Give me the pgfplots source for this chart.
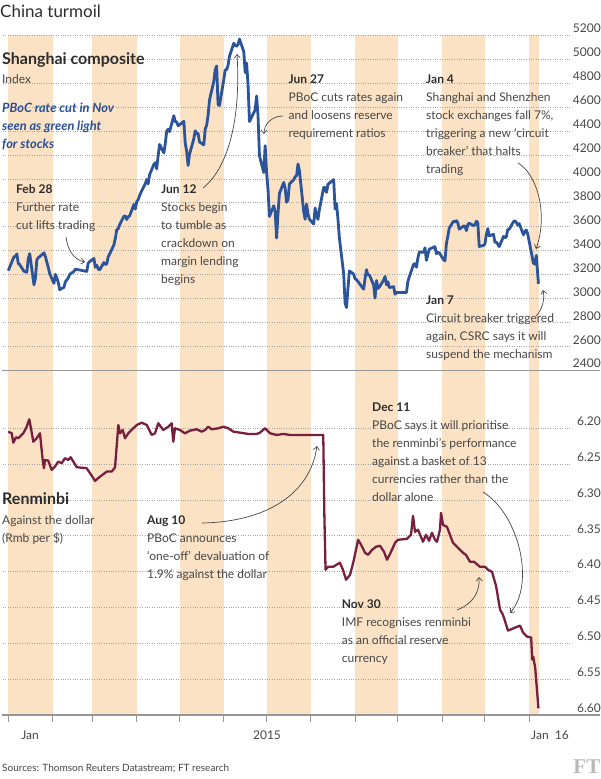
\documentclass[border=0pt]{standalone}
\usepackage{fontspec}
\setmainfont{Lato}
\usepackage{pgfplots}
\pgfplotsset{compat=1.18}
\usetikzlibrary{arrows.meta}
\definecolor{band}{RGB}{252,226,196}
\definecolor{shblue}{RGB}{43,84,155}
\definecolor{rmbred}{RGB}{120,30,62}
\definecolor{txt}{RGB}{70,70,70}
\definecolor{hd}{RGB}{45,45,45}
\definecolor{gridc}{RGB}{165,165,165}
\definecolor{axc}{RGB}{150,150,150}
\definecolor{ftgray}{RGB}{185,185,185}
\definecolor{notecol}{RGB}{40,80,150}

\pgfplotsset{
  ftbase/.style={
    scale only axis, width=567.7pt,
    xmin=-3.71, xmax=394.1,
    axis line style={draw=none},
    ytick style={draw=none},
    yticklabel pos=right,
    yticklabel style={anchor=base east, inner sep=0pt, xshift=30.3pt, yshift=2.7pt,
      font=\fontsize{12}{12}\selectfont, text=txt},
    ymajorgrids, major grid style={gridc, dotted, line width=0.7pt},
    /pgf/number format/assume math mode=true,
    set layers,
  }
}
\tikzset{
  note/.style={anchor=base west, inner sep=0pt, font=\fontsize{12}{18}\selectfont, text=txt},
  arr/.style={draw=txt, line width=0.7pt, -{Straight Barb[length=3.5pt,width=6pt]}},
}
\newcommand{\note}[3]{\node[note] at (#1,#2) {\begin{tabular}[t]{@{}l@{}}#3\end{tabular}};}
\newcommand{\hd}[1]{\textcolor{hd}{\textbf{#1}}}

\begin{document}
\begin{tikzpicture}
\path (0,0) rectangle (601pt,779pt);

% ---------------- Shanghai composite ----------------
\begin{axis}[ftbase, at={(3pt,408.3pt)}, anchor=south west, height=335.7pt,
  ymin=2400, ymax=5200, ytick={2400,2600,2800,3000,3200,3400,3600,3800,4000,4200,4400,4600,4800,5000,5200},
  xtick=\empty,
  /pgf/number format/set thousands separator={}]
\begin{pgfonlayer}{axis background}
\fill[band] (axis cs:0,2400) rectangle (axis cs:31,5200);
\fill[band] (axis cs:59,2400) rectangle (axis cs:90,5200);
\fill[band] (axis cs:120,2400) rectangle (axis cs:151,5200);
\fill[band] (axis cs:181,2400) rectangle (axis cs:212,5200);
\fill[band] (axis cs:243,2400) rectangle (axis cs:273,5200);
\fill[band] (axis cs:304,2400) rectangle (axis cs:334,5200);
\fill[band] (axis cs:365,2400) rectangle (axis cs:372,5200);
\end{pgfonlayer}
\addplot[shblue, line width=2.8pt, line join=round, mark=none] coordinates {
(0,3235) (4,3351) (5,3352) (6,3374) (7,3294) (8,3285) (11,3229) (12,3224) (13,3222) (14,3336) (15,3376) (18,3116) (19,3173) (20,3323) (21,3343) (22,3351) (25,3383) (26,3352) (27,3305) (28,3262) (29,3210) (32,3128) (33,3204) (34,3174) (35,3136) (36,3076) (39,3095) (40,3142) (41,3157) (42,3173) (43,3203) (46,3228) (47,3247) (55,3228) (56,3298) (57,3310) (60,3336) (61,3263) (62,3280) (63,3248) (64,3241) (67,3302) (68,3286) (69,3290) (70,3349) (71,3373) (74,3449) (75,3503) (76,3577) (77,3582) (78,3617) (81,3688) (82,3691) (83,3661) (84,3683) (85,3691) (88,3786) (89,3748) (90,3810) (91,3825) (92,3863) (96,3961) (97,3995) (98,3957) (99,4034) (102,4121) (103,4135) (104,4084) (105,4194) (106,4287) (109,4217) (110,4293) (111,4398) (112,4414) (113,4394) (116,4527) (117,4476) (118,4476) (119,4442) (123,4480) (124,4298) (125,4229) (126,4112) (127,4205) (130,4334) (131,4401) (132,4375) (133,4378) (134,4308) (137,4283) (138,4418) (139,4446) (140,4530) (141,4658) (144,4813) (145,4911) (146,4942) (147,4620) (148,4612) (151,4828) (152,4910) (153,4910) (154,4947) (155,5023) (158,5131) (159,5113) (160,5106) (161,5121) (162,5166) (165,5062) (166,4887) (167,4967) (168,4785) (169,4478) (173,4576) (174,4691) (175,4527) (176,4192) (179,4053) (180,4277) (181,4053) (182,3912) (183,3687) (186,3776) (187,3727) (188,3507) (189,3710) (190,3878) (193,3970) (194,3924) (195,3805) (196,3823) (197,3958) (200,3992) (201,4017) (202,4027) (203,4124) (204,4071) (207,3726) (208,3663) (209,3790) (210,3706) (211,3664) (214,3623) (215,3757) (216,3695) (217,3662) (218,3744) (221,3928) (222,3928) (223,3887) (224,3955) (225,3965) (228,3994) (229,3749) (230,3794) (231,3665) (232,3508) (235,3210) (236,2965) (237,2927) (238,3084) (239,3232) (242,3206) (243,3166) (244,3160) (249,3080) (250,3170) (251,3243) (252,3197) (253,3200) (256,3114) (257,3005) (258,3152) (259,3086) (260,3097) (263,3156) (264,3186) (265,3116) (266,3142) (267,3093) (270,3101) (271,3038) (272,3053) (279,3053) (280,3143) (281,3183) (284,3287) (285,3293) (286,3263) (287,3338) (288,3391) (291,3387) (292,3425) (293,3320) (294,3369) (295,3413) (298,3430) (299,3434) (300,3375) (301,3387) (302,3383) (305,3326) (306,3317) (307,3460) (308,3522) (309,3590) (312,3647) (313,3641) (314,3651) (315,3633) (316,3580) (319,3607) (320,3605) (321,3568) (322,3618) (323,3630) (326,3610) (327,3616) (328,3647) (329,3635) (330,3436) (333,3445) (334,3456) (335,3537) (336,3585) (337,3525) (340,3537) (341,3471) (342,3472) (343,3455) (344,3435) (347,3520) (348,3510) (349,3516) (350,3580) (351,3579) (354,3642) (355,3651) (356,3636) (357,3612) (358,3627) (361,3533) (362,3563) (363,3573) (364,3539) (368,3296) (369,3288) (370,3361) (371.5,3125)
};
\end{axis}

% ---------------- Renminbi ----------------
\begin{axis}[ftbase, at={(3pt,64pt)}, anchor=south west, height=344.7pt,
  y dir=reverse, ymin=6.1191, ymax=6.60,
  ytick={6.20,6.25,6.30,6.35,6.40,6.45,6.50,6.55,6.60},
  yticklabel style={/pgf/number format/fixed, /pgf/number format/fixed zerofill, /pgf/number format/precision=2},
  xtick={0,31,59,90,120,151,181,212,243,273,304,334,365}, xticklabels={},
  xtick pos=left, xtick align=outside, major tick length=6.7pt,
  xtick style={draw=axc, line width=0.9pt}]
\begin{pgfonlayer}{axis background}
\fill[band] (axis cs:0,6.1191) rectangle (axis cs:31,6.60);
\fill[band] (axis cs:59,6.1191) rectangle (axis cs:90,6.60);
\fill[band] (axis cs:120,6.1191) rectangle (axis cs:151,6.60);
\fill[band] (axis cs:181,6.1191) rectangle (axis cs:212,6.60);
\fill[band] (axis cs:243,6.1191) rectangle (axis cs:273,6.60);
\fill[band] (axis cs:304,6.1191) rectangle (axis cs:334,6.60);
\fill[band] (axis cs:365,6.1191) rectangle (axis cs:372,6.60);
\end{pgfonlayer}
\addplot[rmbred, line width=2.3pt, line join=round, mark=none] coordinates {
(0,6.2047) (2.4,6.2070) (3.5,6.2201) (5.4,6.2125) (7.0,6.2139) (10.5,6.2070) (12.9,6.1978) (14.7,6.1875) (15.7,6.1978) (17.5,6.2187) (19.9,6.2139) (22.2,6.2070) (24.1,6.2442) (25.0,6.2557) (25.7,6.2442) (28.0,6.2451) (30.4,6.2581) (32.7,6.2535) (35.0,6.2465) (37.4,6.2487) (39.7,6.2418) (42.0,6.2442) (43.7,6.2404) (45.6,6.2465) (47.9,6.2543) (54.9,6.2557) (57.3,6.2627) (60.8,6.2734) (64.3,6.2674) (69.0,6.2604) (72.5,6.2604) (74.8,6.2543) (77.1,6.1954) (78.3,6.2070) (80.2,6.2024) (81.8,6.2139) (84.1,6.2070) (87.6,6.2000) (90.0,6.1954) (93.5,6.1922) (97.0,6.1954) (100.5,6.2093) (102.8,6.2070) (105.1,6.1930) (108.6,6.2024) (112.1,6.1978) (114.5,6.1930) (115.6,6.2187) (116.8,6.2000) (120.3,6.2024) (123.8,6.2070) (127.3,6.2033) (132.0,6.2014) (135.5,6.2047) (137.8,6.2024) (140.2,6.1978) (142.5,6.2014) (147.2,6.2000) (150.7,6.1978) (154.2,6.2000) (157.7,6.2047) (162.4,6.2061) (168.2,6.2079) (174.1,6.2079) (176.4,6.2061) (179.9,6.2000) (183.4,6.2070) (188.1,6.2093) (192.7,6.2079) (197.4,6.2093) (204.4,6.2093) (211.4,6.2093) (218.4,6.2093) (220.7,6.2093) (221.5,6.3231) (222.3,6.3974) (224.1,6.3932) (227.6,6.3932) (232.4,6.3876) (234.5,6.3974) (236.7,6.4113) (239.5,6.4043) (242.0,6.3850) (245.1,6.3556) (247.2,6.3625) (250.0,6.3737) (252.1,6.3765) (254.9,6.3695) (257.7,6.3653) (260.5,6.3639) (263.3,6.3723) (265.4,6.3834) (268.2,6.3723) (271.0,6.3598) (273.1,6.3556) (279.4,6.3542) (282.2,6.3486) (283.6,6.3221) (285.0,6.3444) (287.1,6.3416) (289.2,6.3514) (290.6,6.3584) (292.7,6.3486) (294.8,6.3570) (296.9,6.3458) (299.0,6.3556) (300.4,6.3584) (302.5,6.3416) (303.2,6.3180) (304.6,6.3347) (307.4,6.3375) (311.6,6.3598) (314.4,6.3653) (318.6,6.3737) (320.7,6.3765) (323.5,6.3862) (326.3,6.3862) (330.5,6.3932) (334.0,6.3932) (336.1,6.3974) (338.9,6.4001) (341.8,6.4200) (344.6,6.4530) (346.6,6.4600) (350.2,6.4823) (355.1,6.4781) (358.6,6.4753) (360.7,6.4850) (363.5,6.4906) (366.4,6.4920) (367.1,6.5226) (367.8,6.5184) (369.2,6.5337) (371.5,6.5908)
};
\end{axis}

% ---------------- overlay (pixel coordinates, y downwards) ----------------
\begin{scope}[shift={(0pt,779pt)}, x=1pt, y=-1pt]
\draw[axc, line width=1.3pt] (2,370.7) -- (600.3,370.7);
\draw[axc, line width=1.3pt] (2,715) -- (600.3,715);

\node[anchor=base west, inner sep=0pt, font=\fontsize{17}{17}\selectfont, text=hd] at (0,17.3) {China turmoil};

\node[anchor=base west, inner sep=0pt, font=\fontsize{16}{16}\selectfont\bfseries, text=hd] at (2,64.3) {Shanghai composite};
\node[anchor=base west, inner sep=0pt, font=\fontsize{12}{12}\selectfont, text=txt] at (2,83.3) {Index};
\node[note, text=notecol, font=\fontsize{12.8}{18}\selectfont\bfseries\itshape] at (2,112.3) {\begin{tabular}[t]{@{}l@{}}PBoC rate cut in Nov\\seen as green light\\for stocks\end{tabular}};

\note{16}{194}{\hd{Feb 28}\\Further rate\\cut lifts trading}
\note{161}{194}{\hd{Jun 12}\\Stocks begin\\to tumble as\\crackdown on\\margin lending\\begins}
\note{288.5}{84}{\hd{Jun 27}\\PBoC cuts rates again\\and loosens reserve\\requirement ratios}
\note{426}{84}{\hd{Jan 4}\\Shanghai and Shenzhen\\stock exchanges fall 7\%,\\triggering a new ‘circuit\\breaker’ that halts\\trading}
\note{426}{305}{\hd{Jan 7}\\Circuit breaker triggered\\again, CSRC says it will\\suspend the mechanism}

\node[anchor=base west, inner sep=0pt, font=\fontsize{16}{16}\selectfont\bfseries, text=hd] at (2,505) {Renminbi};
\note{2}{525}{Against the dollar\\(Rmb per \$)}
\note{147}{525}{\hd{Aug 10}\\PBoC announces\\‘one-off’ devaluation of\\1.9\% against the dollar}
\note{372}{411.7}{\hd{Dec 11}\\PBoC says it will prioritise\\the renminbi’s performance\\against a basket of 13\\currencies rather than the\\dollar alone}
\note{341.7}{609}{\hd{Nov 30}\\IMF recognises renminbi\\as an official reserve\\currency}

% arrows
\draw[arr] (66,237) .. controls (68,252) and (75,260) .. (85,262);
\draw[arr] (203,188) .. controls (228,168) and (241,120) .. (237,54);
\draw[arr] (283,116) .. controls (272,116) and (264,124) .. (264,134);
\draw[arr] (518,163) .. controls (538,175) and (548,215) .. (536,249);
\draw[arr] (536,316) .. controls (542,310) and (545,300) .. (543,290);
\draw[arr] (202,523) .. controls (265,522) and (310,495) .. (317,446);
\draw[arr] (483,492) .. controls (520,515) and (535,585) .. (510,613);
\draw[arr] (457,610) .. controls (470,605) and (480,595) .. (479,577);

% x labels
\node[anchor=base, inner sep=0pt, font=\fontsize{12}{12}\selectfont, text=txt] at (30,740) {Jan};
\node[anchor=base, inner sep=0pt, font=\fontsize{12}{12}\selectfont, text=txt] at (267,740) {2015};
\node[anchor=base, inner sep=0pt, font=\fontsize{12}{12}\selectfont, text=txt] at (550,740) {Jan\ \ 16};

\node[anchor=base west, inner sep=0pt, font=\fontsize{10}{10}\selectfont, text=txt] at (2,771.5) {Sources: Thomson Reuters Datastream; FT research};
\node[anchor=base east, inner sep=0pt, font=\fontsize{21}{21}\selectfont\fontspec{Liberation Serif}\bfseries, text=ftgray] at (600.5,773.3) {FT};
\end{scope}
\end{tikzpicture}
\end{document}
